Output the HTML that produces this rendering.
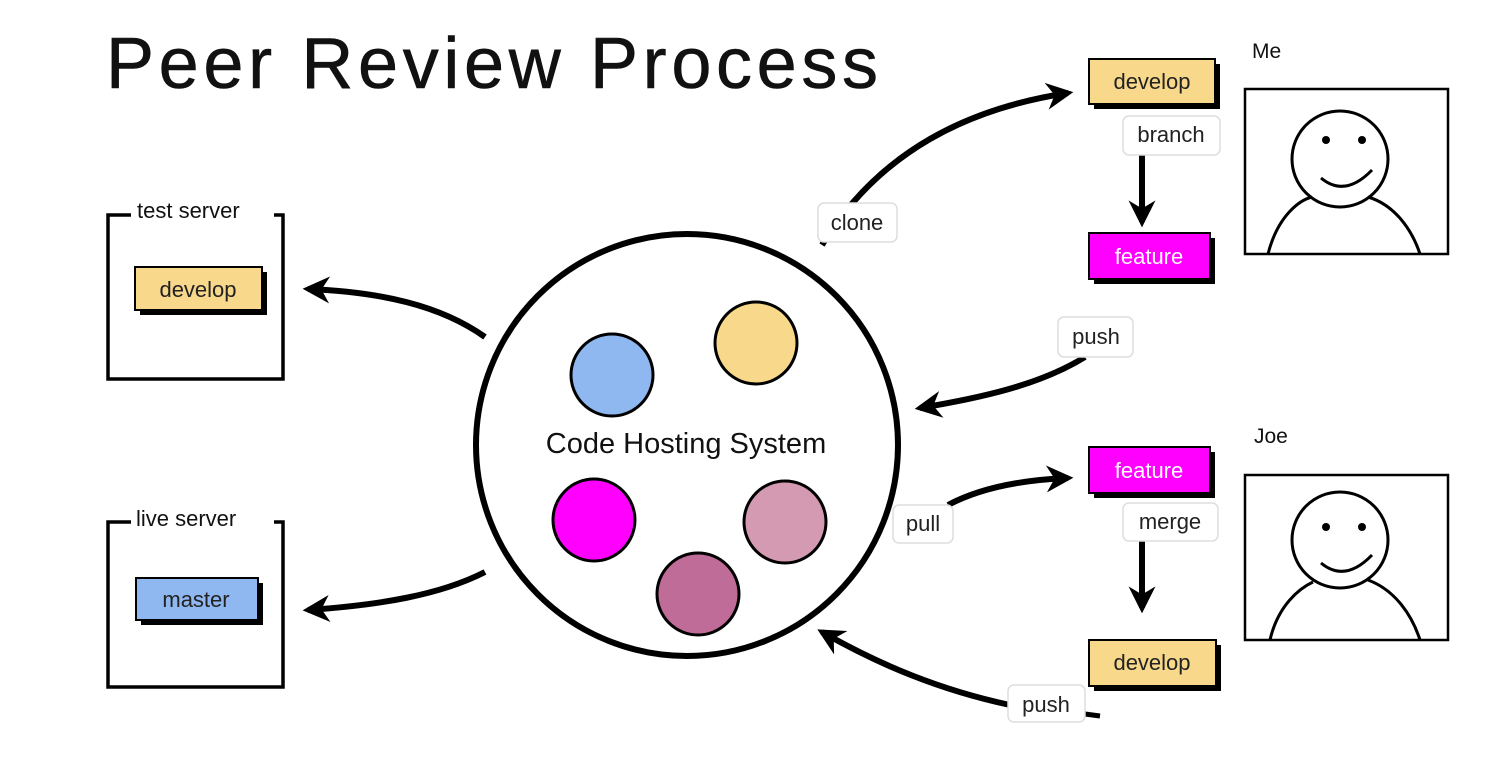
<!DOCTYPE html>
<html><head><meta charset="utf-8"><style>
html,body{margin:0;padding:0;background:#fff;}
svg{display:block;}
text{font-family:"Liberation Sans",sans-serif;}
</style></head><body>
<svg width="1488" height="770" viewBox="0 0 1488 770" xmlns="http://www.w3.org/2000/svg">
<defs>
<marker id="ah" viewBox="0 0 10 10" refX="8" refY="5" markerWidth="4.5" markerHeight="4.5" orient="auto" markerUnits="strokeWidth">
<path d="M0,0 L10,5 L0,10 L3,5 z" fill="#000"/>
</marker>
</defs>
<rect width="1488" height="770" fill="#fff"/>
<text x="106" y="88" font-size="72" fill="#111" textLength="772" lengthAdjust="spacing" stroke="#111" stroke-width="0.6">Peer Review Process</text>

<!-- test server -->
<path d="M131,215 L108,215 L108,379 L283,379 L283,215 L274,215" fill="none" stroke="#000" stroke-width="3.5"/>
<text x="137" y="218" font-size="22" fill="#111">test server</text>
<rect x="140" y="272" width="127" height="43" fill="#000"/>
<rect x="135" y="267" width="127" height="43" fill="#f8d88a" stroke="#000" stroke-width="2"/>
<text x="198" y="297" font-size="22" text-anchor="middle" fill="#222">develop</text>

<!-- live server -->
<path d="M131,522 L108,522 L108,687 L283,687 L283,522 L274,522" fill="none" stroke="#000" stroke-width="3.5"/>
<text x="136" y="526" font-size="22" fill="#111">live server</text>
<rect x="141" y="583" width="122" height="42" fill="#000"/>
<rect x="136" y="578" width="122" height="42" fill="#8fb8f0" stroke="#000" stroke-width="2"/>
<text x="196" y="607" font-size="22" text-anchor="middle" fill="#222">master</text>

<!-- arrows left -->
<path d="M485,337 C440,305 380,292 308,289" fill="none" stroke="#000" stroke-width="6" marker-end="url(#ah)"/>
<path d="M485,572 C440,595 380,605 308,610" fill="none" stroke="#000" stroke-width="6" marker-end="url(#ah)"/>

<!-- big circle -->
<circle cx="687" cy="445" r="211" fill="#fff" stroke="#000" stroke-width="6"/>
<circle cx="612" cy="375" r="41" fill="#8fb8f0" stroke="#000" stroke-width="3"/>
<circle cx="756" cy="343" r="41" fill="#f8d88a" stroke="#000" stroke-width="3"/>
<circle cx="594" cy="520" r="41" fill="#ff00ff" stroke="#000" stroke-width="3"/>
<circle cx="785" cy="522" r="41" fill="#d49ab2" stroke="#000" stroke-width="3"/>
<circle cx="698" cy="594" r="41" fill="#c06c98" stroke="#000" stroke-width="3"/>
<text x="686" y="453" font-size="29" text-anchor="middle" fill="#111">Code Hosting System</text>

<!-- clone -->
<path d="M822,245 C880,150 970,108 1068,93" fill="none" stroke="#000" stroke-width="6" marker-end="url(#ah)"/>
<rect x="818" y="203" width="79" height="39" rx="6" fill="#fff" stroke="#ddd" stroke-width="1.5"/>
<text x="857" y="230" font-size="22" text-anchor="middle" fill="#222">clone</text>

<!-- push top -->
<path d="M1085,357 C1040,385 980,398 920,408" fill="none" stroke="#000" stroke-width="6" marker-end="url(#ah)"/>
<rect x="1058" y="317" width="75" height="40" rx="6" fill="#fff" stroke="#ddd" stroke-width="1.5"/>
<text x="1096" y="344" font-size="22" text-anchor="middle" fill="#222">push</text>

<!-- pull -->
<path d="M948,505 C980,488 1020,480 1068,478" fill="none" stroke="#000" stroke-width="6" marker-end="url(#ah)"/>
<rect x="893" y="505" width="60" height="38" rx="6" fill="#fff" stroke="#ddd" stroke-width="1.5"/>
<text x="923" y="531" font-size="22" text-anchor="middle" fill="#222">pull</text>

<!-- push bottom -->
<path d="M1010,705 C940,690 880,665 822,632" fill="none" stroke="#000" stroke-width="6" marker-end="url(#ah)"/>
<path d="M1085,714 L1100,716" stroke="#000" stroke-width="5"/>
<rect x="1008" y="685" width="77" height="37" rx="6" fill="#fff" stroke="#ddd" stroke-width="1.5"/>
<text x="1046" y="712" font-size="22" text-anchor="middle" fill="#222">push</text>

<!-- Me -->
<text x="1252" y="58" font-size="21" fill="#111">Me</text>
<rect x="1094" y="64" width="126" height="45" fill="#000"/>
<rect x="1089" y="59" width="126" height="45" fill="#f8d88a" stroke="#000" stroke-width="2"/>
<text x="1152" y="89" font-size="22" text-anchor="middle" fill="#222">develop</text>
<path d="M1142,155 L1142,222" stroke="#000" stroke-width="6" marker-end="url(#ah)"/>
<rect x="1123" y="116" width="97" height="39" rx="6" fill="#fff" stroke="#ddd" stroke-width="1.5"/>
<text x="1171" y="142" font-size="22" text-anchor="middle" fill="#222">branch</text>
<rect x="1094" y="238" width="121" height="46" fill="#000"/>
<rect x="1089" y="233" width="121" height="46" fill="#ff00ff" stroke="#000" stroke-width="2"/>
<text x="1149" y="264" font-size="22" text-anchor="middle" fill="#fff">feature</text>
<rect x="1245" y="89" width="203" height="165" fill="#fff" stroke="#000" stroke-width="2.5"/>
<circle cx="1340" cy="159" r="48" fill="none" stroke="#000" stroke-width="3"/>
<circle cx="1326" cy="140" r="4"/><circle cx="1362" cy="140" r="4"/>
<path d="M1321,178 Q1345,198 1372,170" fill="none" stroke="#000" stroke-width="3"/>
<path d="M1268,254 C1278,215 1300,200 1312,197 M1368,197 C1395,205 1412,230 1420,254" fill="none" stroke="#000" stroke-width="3"/>

<!-- Joe -->
<text x="1254" y="443" font-size="21" fill="#111">Joe</text>
<rect x="1094" y="452" width="121" height="46" fill="#000"/>
<rect x="1089" y="447" width="121" height="46" fill="#ff00ff" stroke="#000" stroke-width="2"/>
<text x="1149" y="478" font-size="22" text-anchor="middle" fill="#fff">feature</text>
<path d="M1142,541 L1142,608" stroke="#000" stroke-width="6" marker-end="url(#ah)"/>
<rect x="1123" y="503" width="95" height="38" rx="6" fill="#fff" stroke="#ddd" stroke-width="1.5"/>
<text x="1170" y="529" font-size="22" text-anchor="middle" fill="#222">merge</text>
<rect x="1094" y="645" width="127" height="46" fill="#000"/>
<rect x="1089" y="640" width="127" height="46" fill="#f8d88a" stroke="#000" stroke-width="2"/>
<text x="1152" y="670" font-size="22" text-anchor="middle" fill="#222">develop</text>
<rect x="1245" y="475" width="203" height="165" fill="#fff" stroke="#000" stroke-width="2.5"/>
<circle cx="1340" cy="540" r="48" fill="none" stroke="#000" stroke-width="3"/>
<circle cx="1326" cy="527" r="4"/><circle cx="1362" cy="527" r="4"/>
<path d="M1321,563 Q1345,583 1372,555" fill="none" stroke="#000" stroke-width="3"/>
<path d="M1270,640 C1278,605 1300,588 1313,582 M1368,580 C1395,590 1412,615 1420,640" fill="none" stroke="#000" stroke-width="3"/>
</svg>
</body></html>
